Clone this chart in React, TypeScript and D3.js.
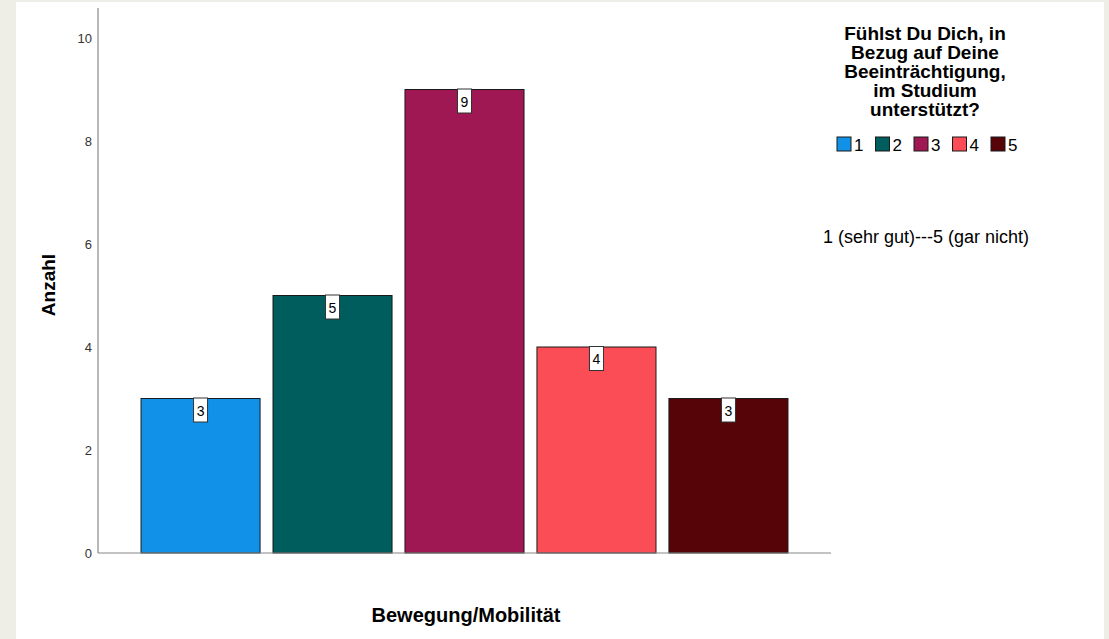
import React from "react";
import * as d3 from "d3";

const categories = ["1", "2", "3", "4", "5"];
const counts = [3, 5, 9, 4, 3];
const colors = ["#1192e8", "#005d5d", "#9f1853", "#fa4d56", "#570408"];
const yTicks = [0, 2, 4, 6, 8, 10];
const legendTitle = [
  "Fühlst Du Dich, in",
  "Bezug auf Deine",
  "Beeinträchtigung,",
  "im Studium",
  "unterstützt?",
];

const W = 1109;
const H = 639;
const font = "Arial, 'Liberation Sans', sans-serif";

export default function App() {
  const x = d3
    .scaleBand<string>()
    .domain(categories)
    .range([98, 831])
    .paddingInner(0.098)
    .paddingOuter(0.326);

  const y = d3.scaleLinear().domain([0, 10]).range([553, 38]);

  return (
    <svg
      width={W}
      height={H}
      style={{ position: "absolute", left: 0, top: 0 }}
      fontFamily={font}
    >
      <rect x={0} y={0} width={W} height={H} fill="#eeeee6" />
      <rect x={16} y={2} width={1088} height={H - 2} fill="#ffffff" />

      {/* bars */}
      {counts.map((v, i) => (
        <rect
          key={"b" + i}
          x={x(categories[i])}
          y={y(v)}
          width={x.bandwidth()}
          height={y(0) - y(v)}
          fill={colors[i]}
          stroke="#1a1a1a"
          strokeWidth={1}
        />
      ))}

      {/* value labels */}
      {counts.map((v, i) => {
        const cx = (x(categories[i]) as number) + x.bandwidth() / 2;
        return (
          <g key={"l" + i}>
            <rect
              x={cx - 7}
              y={y(v) - 0.5}
              width={14}
              height={24}
              fill="#ffffff"
              stroke="#333"
              strokeWidth={1}
            />
            <text
              x={cx}
              y={y(v) + 17}
              textAnchor="middle"
              fontSize={14}
              fill="#000"
            >
              {v}
            </text>
          </g>
        );
      })}

      {/* axes */}
      <line x1={98} x2={98} y1={8} y2={553} stroke="#888" strokeWidth={1.2} />
      <line x1={98} x2={831} y1={553} y2={553} stroke="#888" strokeWidth={1.2} />
      {yTicks.map((t) => (
        <text
          key={"t" + t}
          x={92}
          y={y(t) + 4.5}
          textAnchor="end"
          fontSize={13}
          fill="#333"
        >
          {t}
        </text>
      ))}

      <text
        transform={`translate(55,${285}) rotate(-90)`}
        textAnchor="middle"
        fontSize={19}
        fontWeight="bold"
        fill="#000"
      >
        Anzahl
      </text>
      <text
        x={466}
        y={622}
        textAnchor="middle"
        fontSize={20}
        fontWeight="bold"
        fill="#000"
      >
        Bewegung/Mobilität
      </text>

      {/* legend */}
      {legendTitle.map((s, i) => (
        <text
          key={"lt" + i}
          x={925}
          y={40 + i * 19}
          textAnchor="middle"
          fontSize={19}
          fontWeight="bold"
          fill="#000"
        >
          {s}
        </text>
      ))}
      {categories.map((c, i) => (
        <g key={"lg" + i} transform={`translate(${837 + i * 38.5},137)`}>
          <rect
            x={0}
            y={0}
            width={14}
            height={14}
            fill={colors[i]}
            stroke="#1a1a1a"
            strokeWidth={1}
          />
          <text x={17} y={14} fontSize={17} fill="#000">
            {c}
          </text>
        </g>
      ))}

      <text x={823} y={243} fontSize={18} fill="#000">
        1 (sehr gut)---5 (gar nicht)
      </text>
    </svg>
  );
}
